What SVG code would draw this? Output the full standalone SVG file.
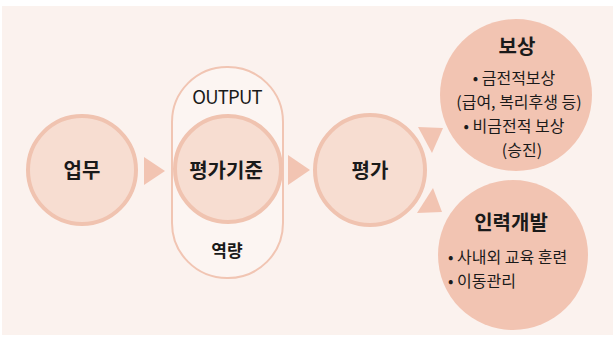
<svg xmlns="http://www.w3.org/2000/svg" width="615" height="337" viewBox="0 0 615 337">
<style>
.bg{fill:#FBF2EE}
.sc{fill:#F7DDD1;stroke:#F0C3B0;stroke-width:4}
.bc{fill:#F2C4B2}
.arr{fill:#F2C4B2}
.pill{fill:#FCF5F2;stroke:#F1C5B3;stroke-width:2}
text{font-family:"Noto Sans CJK KR","Noto Sans",sans-serif;fill:#1a1a1a}
.t1{font-size:20px;font-weight:bold;text-anchor:middle}
.t2{font-size:16px;text-anchor:middle}
.t3{font-size:16px}
.lbl{font-size:18.5px;text-anchor:middle;letter-spacing:-0.8px}
.lb2{font-size:17px;font-weight:bold;text-anchor:middle}
</style>
<rect width="615" height="337" fill="#ffffff"/>
<rect class="bg" x="2" y="6" width="611" height="329"/>
<g id="connectors">
<polygon class="arr" points="144,157 165,171 144,185"/>
<polygon class="arr" points="288,155 310,170 288,185"/>
<polygon class="arr" points="418,127 443,128 432,153"/>
<polygon class="arr" points="433,188 417,213 442,212"/>
</g>
<g id="node-work">
<circle class="sc" cx="82" cy="170" r="54"/>
<text class="t1" x="82" y="178">업무</text>
</g>
<g id="node-criteria">
<rect class="pill" x="172" y="67" width="111" height="211" rx="55"/>
<text class="lbl" x="227" y="104">OUTPUT</text>
<circle class="sc" cx="228" cy="169" r="53"/>
<text class="t1" x="226" y="178">평가기준</text>
<text class="lb2" x="227" y="257">역량</text>
</g>
<g id="node-eval">
<circle class="sc" cx="370" cy="170" r="55"/>
<text class="t1" x="370" y="178">평가</text>
</g>
<g id="node-reward">
<circle class="bc" cx="516" cy="95" r="76"/>
<text class="t1" x="517" y="54">보상</text>
<text class="t2" x="514" y="84">• 금전적보상</text>
<text class="t2" x="519" y="108">(급여, 복리후생 등)</text>
<text class="t2" x="514" y="132">• 비금전적 보상</text>
<text class="t2" x="522" y="156">(승진)</text>
</g>
<g id="node-dev">
<circle class="bc" cx="513" cy="255" r="75"/>
<text class="t1" x="511" y="230">인력개발</text>
<text class="t3" x="448" y="263">• 사내외 교육 훈련</text>
<text class="t3" x="448" y="287">• 이동관리</text>
</g>
</svg>
